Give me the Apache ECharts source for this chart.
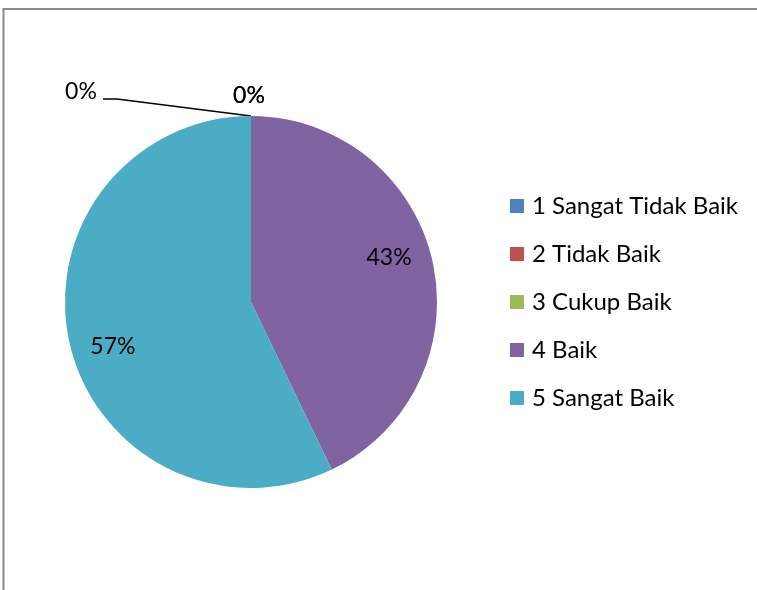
<!DOCTYPE html>
<html>
<head>
<meta charset="utf-8">
<script src="https://cdn.jsdelivr.net/npm/echarts@6/dist/echarts.min.js"></script>
<style>
html,body{margin:0;padding:0;background:#fff;}
#chart{width:757px;height:590px;}
</style>
</head>
<body>
<div id="chart"></div>
<script>
const categories = ['1 Sangat Tidak Baik', '2 Tidak Baik', '3 Cukup Baik', '4 Baik', '5 Sangat Baik'];
const values = [0, 0, 0, 3, 4];
const colors = ['#4F81BD', '#C0504D', '#9BBB59', '#8064A2', '#4BACC6'];

const cx = 251, cy = 302, R = 186;
const total = values.reduce((a, b) => a + b, 0);
const FONT = 'Lato';

const chart = echarts.init(document.getElementById('chart'));
chart.setOption({
  animation: false,
  graphic: [{
    type: 'rect',
    shape: { x: 3.5, y: 9, width: 800, height: 640 },
    style: { fill: 'none', stroke: '#8a8a8a', lineWidth: 2 },
    silent: true
  }],
  legend: {
    orient: 'vertical',
    left: 510,
    top: 194,
    padding: 0,
    itemWidth: 14,
    itemHeight: 14,
    itemGap: 24,
    icon: 'rect',
    textStyle: { fontFamily: FONT, fontSize: 24, color: '#000', lineHeight: 24, padding: [0, 0, 0, 3] },
    data: categories
  },
  series: [{
    type: 'pie',
    center: [cx, cy],
    radius: R,
    startAngle: 90,
    clockwise: true,
    avoidLabelOverlap: false,
    stillShowZeroSum: true,
    itemStyle: { borderWidth: 0 },
    label: {
      show: true,
      fontFamily: FONT,
      fontSize: 23,
      color: '#000',
      formatter: p => Math.round(p.percent) + '%'
    },
    labelLine: { show: false, lineStyle: { color: '#000', width: 1.5 }, smooth: false },
    labelLayout: function (params) {
      const i = params.dataIndex;
      if (values[i] > 0) {
        let before = 0;
        for (let k = 0; k < i; k++) before += values[k];
        const mid = ((before + values[i] / 2) / total) * 2 * Math.PI - 5 * Math.PI / 180;
        return {
          x: cx + 0.78 * R * Math.sin(mid),
          y: cy - 0.78 * R * Math.cos(mid),
          align: 'center',
          verticalAlign: 'middle'
        };
      }
      if (i === 0) {
        return {
          x: cx - 170,
          y: cy - 210,
          align: 'center',
          verticalAlign: 'middle',
          labelLinePoints: [[cx, cy - R], [cx - 134, cy - 203], [cx - 148, cy - 203]]
        };
      }
      return {
        x: cx - 2,
        y: cy - 206,
        align: 'center',
        verticalAlign: 'middle'
      };
    },
    data: categories.map((c, i) => ({
      name: c,
      value: values[i],
      itemStyle: { color: colors[i] },
      labelLine: { show: i === 0 }
    }))
  }]
});
</script>
</body>
</html>
